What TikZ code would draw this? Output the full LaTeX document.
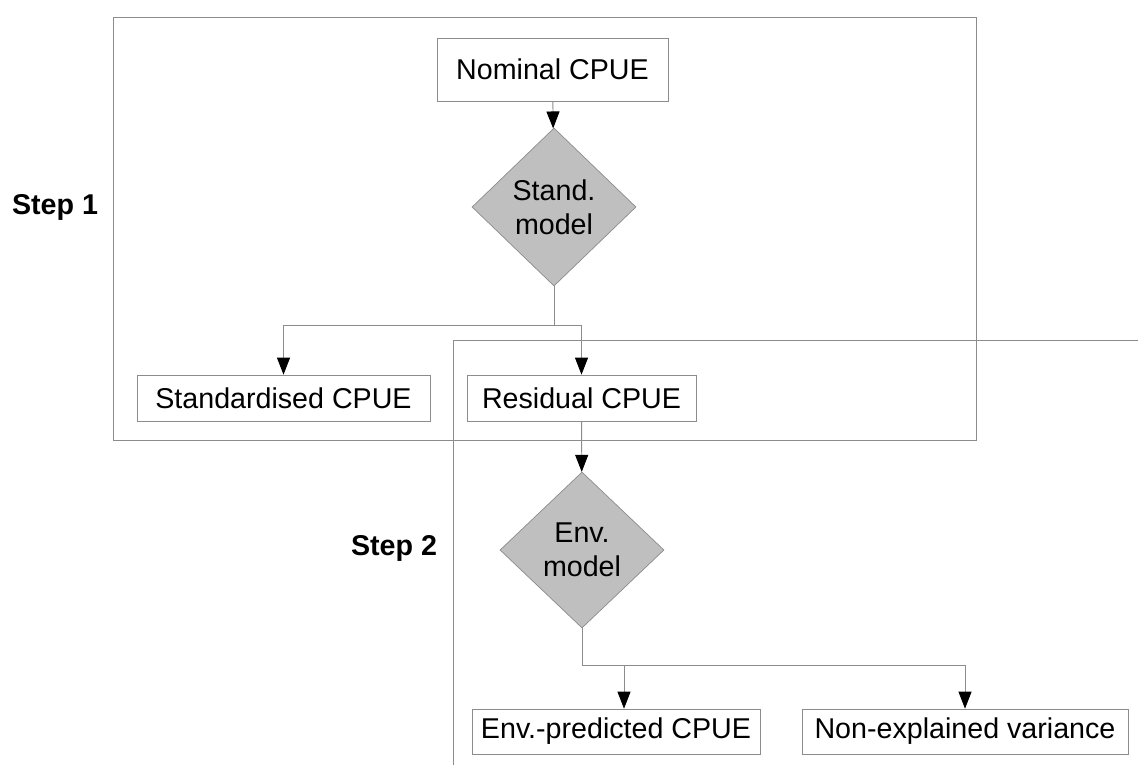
\documentclass[tikz,border=0pt]{standalone}
\usepackage{fontspec}
\setmainfont{Liberation Sans}
\usepackage{tikz}
\usetikzlibrary{shapes.geometric}
\usetikzlibrary{arrows.meta}

\begin{document}
\begin{tikzpicture}[x=0.02cm,y=-0.02cm,
		box/.style={draw=black!45,fill=white,inner sep=0pt,font=\fontsize{16.3}{19.5}\selectfont},
		decision/.style={diamond,draw=black!45,fill=black!25,inner sep=0pt,align=center,font=\fontsize{16.3}{19.5}\selectfont},
		steplabel/.style={font=\fontsize{16.3}{19.5}\selectfont\bfseries},
		frame/.style={draw=black!45,line width=0.5pt},
		link/.style={draw=black!45,line width=0.5pt},
		arr/.style={link,-{Triangle[length=0.34cm,width=0.26cm,fill=black,color=black]}}]
				\useasboundingbox (0,0) rectangle (1138,765);
				
				% frames
				\draw[frame] (113,17) rectangle (976,440);
				\draw[frame] (453,765) |- (1138,340);
				
				\node[steplabel] (step1) at (55,207) {Step 1};
				\node[steplabel] (step2) at (394,548) {Step 2};
				
				% step 1
				\node[box,minimum width=0.02*231cm,minimum height=0.02*63cm] (nominal) at (552.5,69.5) {Nominal CPUE};
				\node[decision,minimum width=0.02*164cm,minimum height=0.02*158cm] (stand) at (554,207) {Stand.\\model};
				\node[box,minimum width=0.02*293cm,minimum height=0.02*46cm] (std) at (283.5,398) {Standardised CPUE};
				\node[box,minimum width=0.02*229cm,minimum height=0.02*46cm] (res) at (581.5,398) {Residual CPUE};
				
				% step 2
				\node[decision,minimum width=0.02*164cm,minimum height=0.02*156cm] (env) at (582,550) {Env.\\model};
				\node[box,minimum width=0.02*288cm,minimum height=0.02*45cm] (pred) at (616,731.5) {Env.-predicted CPUE};
				\node[box,minimum width=0.02*326cm,minimum height=0.02*45cm] (nonexp) at (965,731.5) {Non-explained variance};
				
				\coordinate (split1) at (554,325);
				\coordinate (split2) at (582,665);
				
				\draw[arr] (nominal) -- (stand);
				\draw[link] (stand) -- (split1);
				\draw[arr] (split1) -| (std);
				\draw[arr] (split1) -| (res);
				\draw[arr] (res) -- (env);
				\draw[link] (env) -- (split2);
				\draw[arr] (split2) -| ([xshift=0.16cm]pred.north);
				\draw[arr] (split2) -| (nonexp);
			\end{tikzpicture}
\end{document}
